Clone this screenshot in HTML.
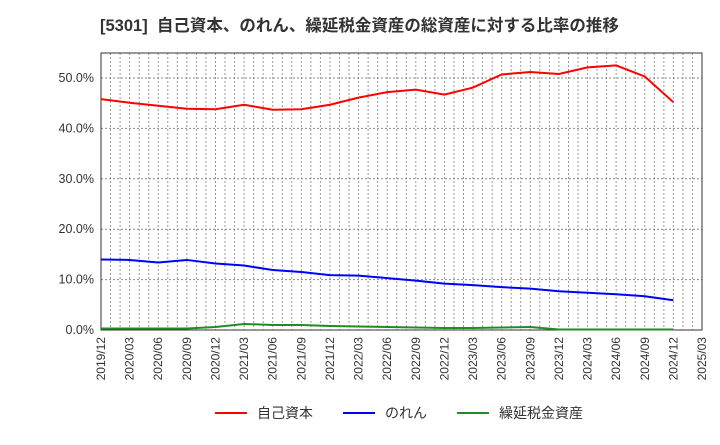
<!DOCTYPE html>
<html><head><meta charset="utf-8"><style>
body{margin:0;background:#fff;font-family:"Liberation Sans","Noto Sans CJK JP",sans-serif}
</style></head><body>
<svg id="chart" width="720" height="440" xmlns="http://www.w3.org/2000/svg" font-family="Liberation Sans, Noto Sans CJK JP, sans-serif">
<text x="100" y="31" font-size="16.5" font-weight="bold" fill="#333" xml:space="preserve" style="white-space:pre">[5301]  自己資本、のれん、繰延税金資産の総資産に対する比率の推移</text>
<g id="grid"></g><g id="axes"></g><g id="series"></g>
<g font-size="14" fill="#333">
<g><line x1="215" y1="413" x2="247" y2="413" stroke="#f00" stroke-width="2"/><text x="257" y="418">自己資本</text></g>
<g><line x1="343" y1="413" x2="375" y2="413" stroke="#00f" stroke-width="2"/><text x="385" y="418">のれん</text></g>
<g><line x1="457" y1="413" x2="489" y2="413" stroke="#228b22" stroke-width="2"/><text x="499" y="418">繰延税金資産</text></g>
</g>
</svg>
<script>
const categories=["2019/12","2020/03","2020/06","2020/09","2020/12","2021/03","2021/06","2021/09","2021/12","2022/03","2022/06","2022/09","2022/12","2023/03","2023/06","2023/09","2023/12","2024/03","2024/06","2024/09","2024/12","2025/03"];
const equity=[45.8,45.1,44.5,43.9,43.8,44.7,43.7,43.8,44.7,46.1,47.2,47.7,46.7,48.1,50.7,51.2,50.8,52.1,52.5,50.3,45.2];
const goodwill=[14.0,13.9,13.4,13.9,13.2,12.8,11.9,11.5,10.9,10.8,10.3,9.8,9.2,8.9,8.5,8.2,7.7,7.4,7.1,6.7,5.9];
const dta=[0.3,0.3,0.3,0.3,0.6,1.2,1.0,1.0,0.8,0.7,0.6,0.5,0.4,0.4,0.5,0.6,0.1,0.1,0.1,0.1,0.1];
const yTicks=[0,10,20,30,40,50];
const L=101,R=702,T=53,B=330;
const x=i=>L+(R-L)*i/(categories.length-1);
const y=v=>B-(B-78)*v/50;
const NS="http://www.w3.org/2000/svg";
function mk(tag,attrs,parent){const e=document.createElementNS(NS,tag);for(const k in attrs)e.setAttribute(k,attrs[k]);parent.appendChild(e);return e;}
const grid=document.getElementById('grid'),axes=document.getElementById('axes'),series=document.getElementById('series');
const months=(categories.length-1)*3;
for(let m=1;m<months;m++){const xx=L+(R-L)*m/months;const g=mk('line',{x1:xx,x2:xx,y1:T,y2:B,stroke:'#999','stroke-dasharray':'2,2','stroke-width':1},grid);

}
yTicks.forEach(v=>{if(v>0){const g=mk('line',{x1:L,x2:R,y1:y(v),y2:y(v),stroke:'#888','stroke-dasharray':'2,2'},grid);

}
const t=mk('text',{x:L-7,y:y(v)+4,'text-anchor':'end','font-size':12.5,fill:'#333'},axes);t.textContent=v.toFixed(1)+'%';

});
const fr=mk('rect',{x:L,y:T,width:R-L,height:B-T,fill:'none',stroke:'#333'},axes);


categories.forEach((c,i)=>{const t=mk('text',{transform:`translate(${x(i)+4},${B+7}) rotate(-90)`,'text-anchor':'end','font-size':12,fill:'#333'},axes);t.textContent=c;

});
[[equity,'#f00','equity-line'],[goodwill,'#00f','goodwill-line'],[dta,'#228b22','dta-line']].forEach(([d,c,n])=>{
const p=mk('polyline',{points:d.map((v,i)=>x(i)+','+y(v)).join(' '),fill:'none',stroke:c,'stroke-width':2},series);

});
</script>
</body></html>
